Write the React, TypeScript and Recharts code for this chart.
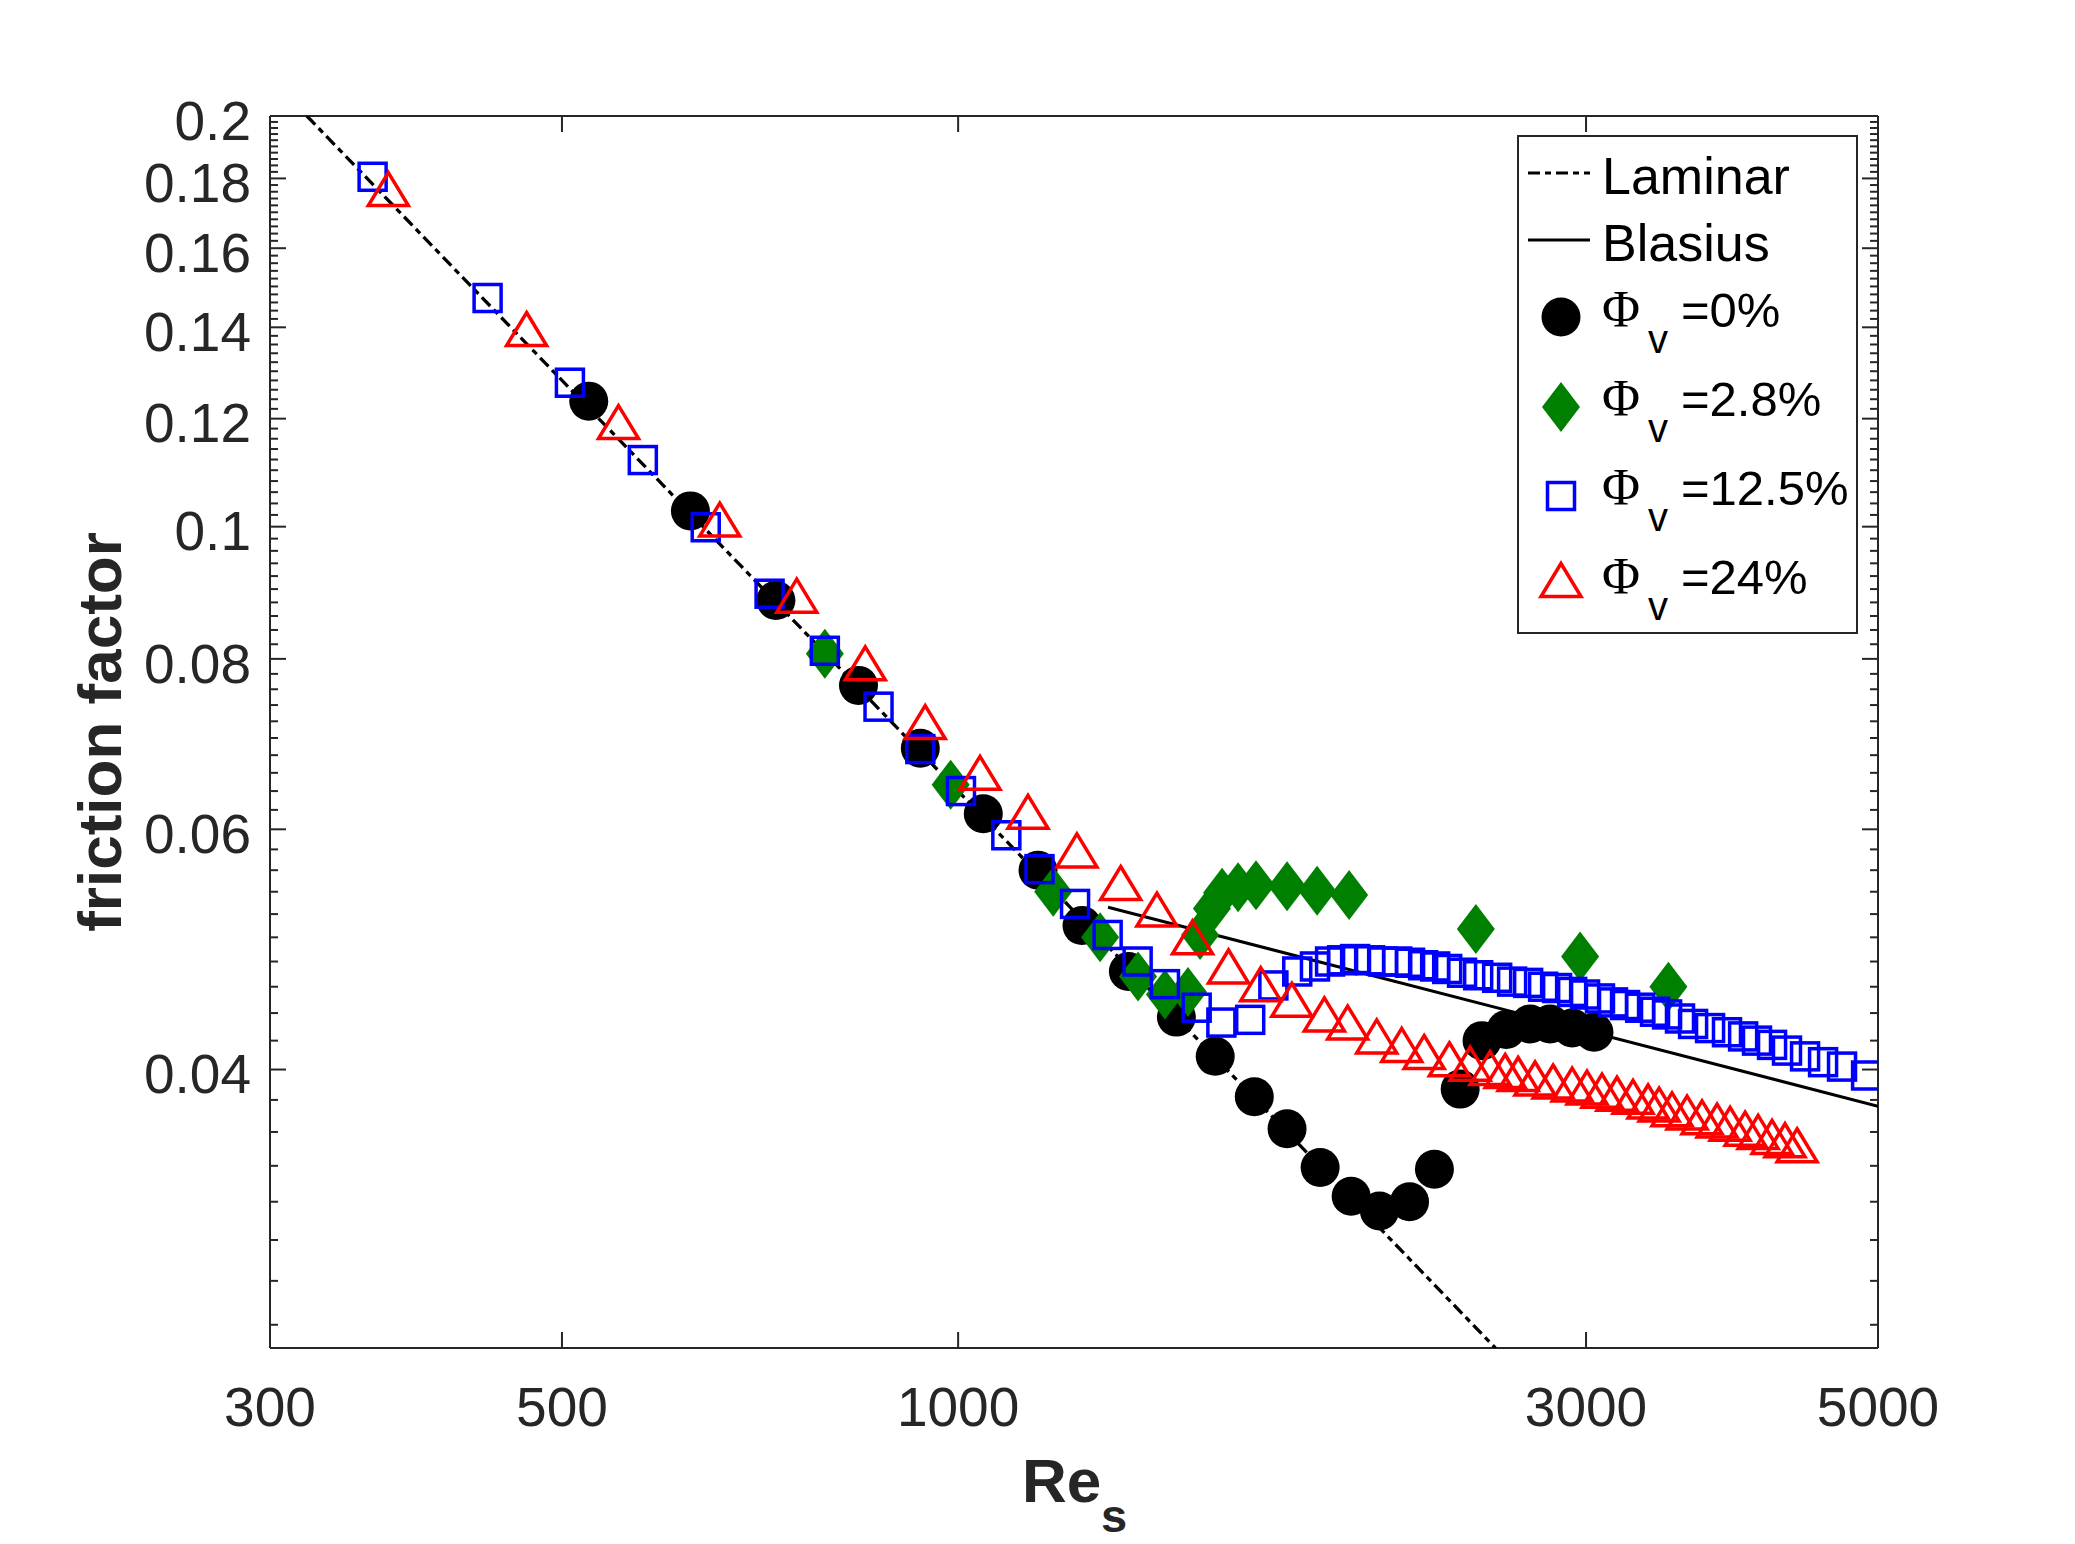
import React from 'react';
import { ComposedChart, Scatter, XAxis, YAxis, Customized } from 'recharts';

const SANS = "'Liberation Sans', Arial, Helvetica, sans-serif";
const SERIF = "'Liberation Serif', 'Times New Roman', serif";
const AXIS = '#262626';

// axis ticks
const xTicks = [300, 500, 1000, 3000, 5000];
const yTicks = [0.04, 0.06, 0.08, 0.1, 0.12, 0.14, 0.16, 0.18, 0.2];
const yMinorTicks = [
  0.026, 0.028, 0.03, 0.032, 0.034, 0.036, 0.038, 0.042, 0.044, 0.046, 0.048, 0.05, 0.052, 0.054, 0.056, 0.058,
  0.062, 0.064, 0.066, 0.068, 0.07, 0.072, 0.074, 0.076, 0.078, 0.082, 0.084, 0.086, 0.088, 0.09, 0.092, 0.094,
  0.096, 0.098, 0.102, 0.104, 0.106, 0.108, 0.11, 0.112, 0.114, 0.116, 0.118, 0.122, 0.124, 0.126, 0.128, 0.13,
  0.132, 0.134, 0.136, 0.138, 0.142, 0.144, 0.146, 0.148, 0.15, 0.152, 0.154, 0.156, 0.158, 0.162, 0.164, 0.166,
  0.168, 0.17, 0.172, 0.174, 0.176, 0.178, 0.182, 0.184, 0.186, 0.188, 0.19, 0.192, 0.194, 0.196, 0.198,
];

// reference lines [Re, f]
const laminar = [[320, 0.2], [2560, 0.025]];
const blasius = [[1300, 0.0526], [5000, 0.0376]];

// measured friction factors [Re_s, f]
const phi0 = [
  [524, 0.1236], [626, 0.1027], [727, 0.0883], [840, 0.0765], [936, 0.0688], [1045, 0.0616], [1150, 0.056],
  [1242, 0.051], [1347, 0.0472], [1465, 0.0437], [1568, 0.0409], [1679, 0.0382], [1778, 0.0362], [1884, 0.0339],
  [1989, 0.0323], [2090, 0.0315], [2203, 0.032], [2301, 0.0338], [2407, 0.0387], [2501, 0.042], [2609, 0.0428],
  [2720, 0.0432], [2817, 0.0432], [2928, 0.0429], [3042, 0.0426],
];

const phi28 = [
  [792, 0.0807], [987, 0.0647], [1181, 0.054], [1282, 0.05], [1370, 0.0468], [1436, 0.0454], [1495, 0.0456],
  [1527, 0.0502], [1559, 0.0525], [1587, 0.0539], [1632, 0.0544], [1684, 0.0546], [1778, 0.0545], [1874, 0.0541],
  [1982, 0.0537], [2474, 0.0507], [2969, 0.0484], [3465, 0.046],
];

const phi125 = [
  [359, 0.1805], [439, 0.1471], [507, 0.1275], [576, 0.1119], [643, 0.0999], [719, 0.0893], [792, 0.0811],
  [870, 0.0738], [936, 0.0687], [1005, 0.064], [1088, 0.0594], [1153, 0.0561], [1227, 0.0529], [1299, 0.0502],
  [1369, 0.048], [1436, 0.0462], [1518, 0.0444], [1585, 0.0433], [1667, 0.0435], [1736, 0.0461], [1810, 0.0472],
  [1867, 0.0476], [1917, 0.048], [1958, 0.0481], [2003, 0.0482], [2056, 0.0481], [2103, 0.048], [2156, 0.048],
  [2205, 0.0479], [2256, 0.0477], [2304, 0.0476], [2353, 0.0474], [2415, 0.0471], [2484, 0.0469], [2568, 0.0467],
  [2636, 0.0464], [2711, 0.0463], [2783, 0.046], [2852, 0.0459], [2928, 0.0456], [2995, 0.0454], [3074, 0.0451],
  [3145, 0.0448], [3212, 0.0446], [3298, 0.0444], [3385, 0.0441], [3457, 0.0439], [3536, 0.0436], [3618, 0.0432],
  [3727, 0.0429], [3839, 0.0426], [3949, 0.0423], [4046, 0.042], [4154, 0.0417], [4264, 0.0413], [4401, 0.0409],
  [4542, 0.0405], [4695, 0.0402], [4897, 0.0396],
];

const phi24 = [
  [369, 0.1768], [470, 0.1396], [552, 0.1193], [659, 0.1012], [754, 0.089], [850, 0.0794], [944, 0.0719],
  [1039, 0.066], [1130, 0.0618], [1231, 0.0579], [1329, 0.0548], [1416, 0.0524], [1507, 0.05], [1605, 0.0476],
  [1698, 0.0462], [1793, 0.045], [1898, 0.0439], [1977, 0.0433], [2080, 0.0423], [2173, 0.0417], [2260, 0.0412],
  [2362, 0.0407], [2449, 0.0404], [2536, 0.0401], [2604, 0.0399], [2664, 0.0397], [2744, 0.0394], [2832, 0.0392],
  [2928, 0.039], [3005, 0.0388], [3085, 0.0386], [3167, 0.0384], [3257, 0.0382], [3344, 0.0379], [3409, 0.0377],
  [3487, 0.0374], [3580, 0.0372], [3675, 0.0369], [3773, 0.0367], [3860, 0.0365], [3963, 0.0362], [4054, 0.036],
  [4154, 0.0357], [4249, 0.0355], [4340, 0.0352],
];

const legendLabels = ['=0%', '=2.8%', '=12.5%', '=24%'];

const toPts = (rows: number[][]) => rows.map(([re, f]) => ({ re, f }));
const allYTicks = [...yMinorTicks, ...yTicks];
const majorY = new Set(yTicks);

// markers
const Dot = (p: any) => <circle cx={p.cx} cy={p.cy} r={19.5} fill="#000" />;
const Diamond = (p: any) => (
  <polygon
    points={`${p.cx},${p.cy - 25} ${p.cx + 19},${p.cy} ${p.cx},${p.cy + 25} ${p.cx - 19},${p.cy}`}
    fill="#008000"
  />
);
const Square = (p: any) => (
  <rect x={p.cx - 13.5} y={p.cy - 13.5} width={27} height={27} fill="none" stroke="#0000ff" strokeWidth={3.5} />
);
const Triangle = (p: any) => (
  <polygon
    points={`${p.cx},${p.cy - 16.5} ${p.cx + 20},${p.cy + 16.5} ${p.cx - 20},${p.cy + 16.5}`}
    fill="none"
    stroke="#ff0000"
    strokeWidth={3.5}
  />
);
const NoMark = () => <g />;

const XTick = (p: any) => (
  <text x={p.x} y={p.y + 78} textAnchor="middle" fontFamily={SANS} fontSize={55} fill={AXIS}>
    {p.payload.value}
  </text>
);
const YTick = (p: any) => (
  <text x={p.x} y={p.y + 4} dy="0.36em" textAnchor="end" fontFamily={SANS} fontSize={55} fill={AXIS}>
    {p.payload.value}
  </text>
);

// inward tick marks drawn at the axis line (dir: +1 right/down, -1 left/up)
const yMark = (dir: number) => (p: any) => {
  const len = majorY.has(p.payload.value) ? 16 : 8;
  return <line x1={p.x} x2={p.x + dir * len} y1={p.y} y2={p.y} stroke={AXIS} strokeWidth={2} />;
};
const xMark = (dir: number) => (p: any) => (
  <line x1={p.x} x2={p.x} y1={p.y} y2={p.y + dir * 16} stroke={AXIS} strokeWidth={2} />
);

const dashDot = '12 5 6 5';
const markers = [Dot, Diamond, Square, Triangle];
const rowMarkY = [317, 407, 496, 580];
const rowBase = [327, 416, 505, 594];

const Overlay = () => (
  <g>
    {/* axis titles */}
    <text transform="rotate(-90)" x={-732} y={121} textAnchor="middle" fontFamily={SANS} fontWeight="bold" fontSize={62} fill={AXIS}>
      friction factor
    </text>
    <text x={1022} y={1502} fontFamily={SANS} fontWeight="bold" fontSize={62} fill={AXIS}>Re</text>
    <text x={1101} y={1532} fontFamily={SANS} fontWeight="bold" fontSize={47} fill={AXIS}>s</text>

    {/* legend */}
    <rect x={1518} y={136} width={339} height={497} fill="#fff" stroke={AXIS} strokeWidth={2} />
    <line x1={1528} x2={1590} y1={173} y2={173} stroke="#000" strokeWidth={3} strokeDasharray={dashDot} />
    <text x={1602} y={194} fontFamily={SANS} fontSize={52} fill="#000">Laminar</text>
    <line x1={1528} x2={1590} y1={240} y2={240} stroke="#000" strokeWidth={3} />
    <text x={1602} y={261} fontFamily={SANS} fontSize={52} fill="#000">Blasius</text>
    {legendLabels.map((label, i) => {
      const M = markers[i];
      return (
        <g key={label}>
          <M cx={1561} cy={rowMarkY[i]} />
          <text x={1602} y={rowBase[i]} fontFamily={SERIF} fontSize={52} fill="#000">Φ</text>
          <text x={1648} y={rowBase[i] + 26} fontFamily={SANS} fontSize={40} fill="#000">v</text>
          <text x={1681} y={rowBase[i]} fontFamily={SANS} fontSize={49} fill="#000">{label}</text>
        </g>
      );
    })}
  </g>
);

const logX = { type: 'number' as const, scale: 'log' as const, domain: [300, 5000], allowDataOverflow: true, dataKey: 're' };
const logY = { type: 'number' as const, scale: 'log' as const, domain: [0.025, 0.2], allowDataOverflow: true, dataKey: 'f' };
const frame = { stroke: AXIS, strokeWidth: 2 };

export default function App() {
  return (
    <div style={{ position: 'absolute', left: 0, top: 0, background: '#fff' }}>
      <ComposedChart width={2075} height={1544} margin={{ top: 116, right: 197, bottom: 0, left: 0 }}>
        <XAxis xAxisId="main" {...logX} ticks={xTicks} interval={0} height={196} tickSize={0} tickMargin={0}
          tickLine={false} axisLine={false} tick={(p: any) => <XTick {...p} />} />
        <XAxis xAxisId="bottomFrame" {...logX} ticks={xTicks} interval={0} mirror tickSize={0} tickMargin={0}
          tickLine={false} axisLine={frame} tick={xMark(-1)} />
        <XAxis xAxisId="topFrame" {...logX} orientation="top" ticks={xTicks} interval={0} mirror tickSize={0} tickMargin={0}
          tickLine={false} axisLine={frame} tick={xMark(1)} />

        <YAxis yAxisId="main" {...logY} ticks={yTicks} interval={0} width={270} tickSize={0} tickMargin={19}
          tickLine={false} axisLine={false} tick={(p: any) => <YTick {...p} />} />
        <YAxis yAxisId="leftFrame" {...logY} ticks={allYTicks} interval={0} mirror tickSize={0} tickMargin={0}
          tickLine={false} axisLine={frame} tick={yMark(1)} />
        <YAxis yAxisId="rightFrame" {...logY} orientation="right" ticks={allYTicks} interval={0} mirror tickSize={0} tickMargin={0}
          tickLine={false} axisLine={frame} tick={yMark(-1)} />

        <Scatter xAxisId="main" yAxisId="main" data={toPts(laminar)} shape={NoMark} isAnimationActive={false}
          line={{ stroke: '#000', strokeWidth: 3.3, strokeDasharray: dashDot }} />
        <Scatter xAxisId="main" yAxisId="main" data={toPts(blasius)} shape={NoMark} isAnimationActive={false}
          line={{ stroke: '#000', strokeWidth: 3 }} />

        <Scatter xAxisId="main" yAxisId="main" data={toPts(phi0)} shape={Dot} isAnimationActive={false} />
        <Scatter xAxisId="main" yAxisId="main" data={toPts(phi28)} shape={Diamond} isAnimationActive={false} />
        <Scatter xAxisId="main" yAxisId="main" data={toPts(phi125)} shape={Square} isAnimationActive={false} />
        <Scatter xAxisId="main" yAxisId="main" data={toPts(phi24)} shape={Triangle} isAnimationActive={false} />

        <Customized component={Overlay} />
      </ComposedChart>
    </div>
  );
}
